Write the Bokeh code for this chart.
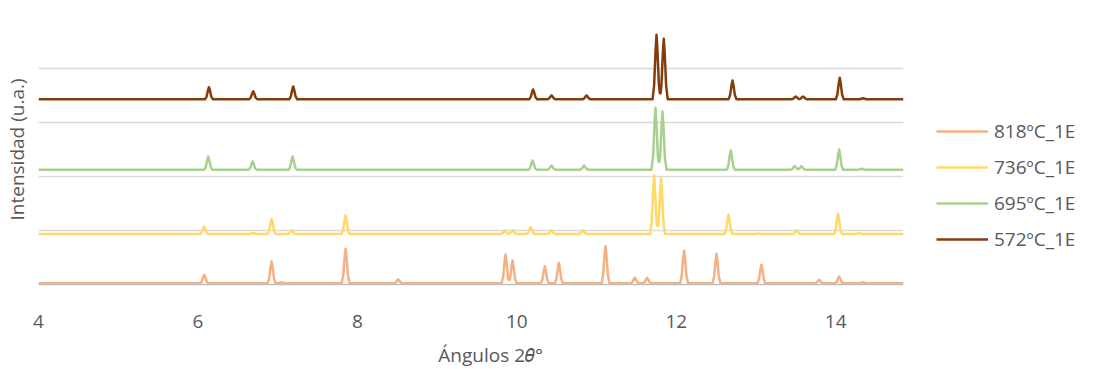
import numpy as np
from bokeh.plotting import figure
from bokeh.models import FixedTicker, Legend, LegendItem, Range1d
from bokeh.embed import file_html
from bokeh.resources import INLINE

# ---------------- data ----------------
x_ticks = [4, 6, 8, 10, 12, 14]
grid_levels = [1000, 2000, 3000, 4000, 5000]

series_names = ["818ºC_1E", "736ºC_1E", "695ºC_1E", "572ºC_1E"]
series_colors = ["#F4B183", "#FFD966", "#A9D18E", "#843C0C"]

baseline_818 = 24
peaks_818_x = [6.079, 6.924, 7.050, 7.852, 8.512, 9.858, 9.946, 10.351, 10.527, 11.112,
               11.480, 11.634, 12.098, 12.504, 13.068, 13.791, 14.042, 14.342]
peaks_818_h = [156, 408, 19, 637, 69, 532, 420, 315, 378, 685,
               100, 100, 606, 545, 341, 63, 124, 19]

baseline_736 = 935
peaks_736_x = [6.079, 6.690, 6.924, 7.175, 7.852, 9.850, 9.946, 10.172, 10.435, 10.831,
               11.722, 11.809, 12.655, 13.022, 13.507, 14.029, 14.292]
peaks_736_h = [139, 22, 282, 65, 343, 65, 65, 126, 65, 65,
               1084, 1034, 356, 10, 65, 374, 15]

baseline_695 = 2125
peaks_695_x = [6.129, 6.686, 7.187, 10.197, 10.435, 10.844, 11.739, 11.827, 12.683,
               13.486, 13.570, 14.042, 14.322]
peaks_695_h = [245, 153, 245, 171, 79, 79, 1147, 1079, 356, 66, 66, 375, 18]

baseline_572 = 3430
peaks_572_x = [6.138, 6.693, 7.195, 10.204, 10.435, 10.874, 11.752, 11.843, 12.705,
               13.498, 13.590, 14.050, 14.342]
peaks_572_h = [224, 150, 237, 181, 70, 70, 1194, 1120, 348, 52, 52, 398, 20]

x_start, x_end = 4.0, 14.85

# ---------------- drawing helpers ----------------
PROF_D = [0.0, 0.012, 0.03, 0.05]     # peak outline (shape only)
PROF_F = [1.0, 0.75, 0.22, 0.0]


def outline(base, px, ph):
    xs = {x_start, x_end}
    for p in px:
        for d in PROF_D:
            xs.add(round(p - d, 4))
            xs.add(round(p + d, 4))
    xs = sorted(x for x in xs if x_start <= x <= x_end)
    ys = []
    for x in xs:
        y = base
        for p, h in zip(px, ph):
            y += h * np.interp(abs(x - p), PROF_D, PROF_F, right=0.0)
        ys.append(y)
    return xs, ys


FONT = "Open Sans"
TXT = "#595959"

p = figure(frame_width=865, frame_height=270, output_backend="svg", toolbar_location=None,
           x_range=Range1d(x_start, x_end), y_range=Range1d(0, 5000),
           min_border_left=38, min_border_right=188, min_border_top=14,
           min_border_bottom=85)
p.outline_line_color = None
p.background_fill_color = "white"
p.border_fill_color = "white"

renderers = {}
data = [
    (series_names[0], baseline_818, peaks_818_x, peaks_818_h, series_colors[0]),
    (series_names[1], baseline_736, peaks_736_x, peaks_736_h, series_colors[1]),
    (series_names[2], baseline_695, peaks_695_x, peaks_695_h, series_colors[2]),
    (series_names[3], baseline_572, peaks_572_x, peaks_572_h, series_colors[3]),
]
for name, base, px, ph, col in data:
    xs, ys = outline(base, px, ph)
    renderers[name] = p.line(xs, ys, line_color=col, line_width=2.5, line_join="round")

# axes
p.xaxis.ticker = FixedTicker(ticks=x_ticks)
p.xaxis.axis_line_color = "#bfbfbf"
p.xaxis.axis_line_width = 1.5
p.xaxis.major_tick_line_color = None
p.xaxis.minor_tick_line_color = None
p.xaxis.major_tick_out = 0
p.xaxis.major_label_standoff = 30
p.xaxis.major_label_text_font = FONT
p.xaxis.major_label_text_font_size = "19px"
p.xaxis.major_label_text_color = TXT
p.xaxis.axis_label = "\u00a0" * 8 + "Ángulos 2𝜃°"
p.xaxis.axis_label_text_font = FONT
p.xaxis.axis_label_text_font_size = "19px"
p.xaxis.axis_label_text_font_style = "normal"
p.xaxis.axis_label_text_color = TXT
p.xaxis.axis_label_standoff = 11

p.yaxis.ticker = FixedTicker(ticks=[])
p.yaxis.axis_line_color = None
p.yaxis.major_tick_line_color = None
p.yaxis.minor_tick_line_color = None
p.yaxis.major_tick_out = 0
p.yaxis.major_label_standoff = 0
p.yaxis.axis_label = "Intensidad (u.a.)"
p.yaxis.axis_label_text_font = FONT
p.yaxis.axis_label_text_font_size = "19px"
p.yaxis.axis_label_text_font_style = "normal"
p.yaxis.axis_label_text_color = TXT
p.yaxis.axis_label_standoff = 9

p.xgrid.visible = False
p.ygrid.ticker = FixedTicker(ticks=grid_levels)
p.ygrid.grid_line_color = "#d9d9d9"
p.ygrid.grid_line_width = 1.5

legend = Legend(items=[LegendItem(label=n, renderers=[renderers[n]]) for n in series_names],
                location=(33, 32), orientation="vertical",
                padding=0, margin=0, spacing=10, glyph_width=52, glyph_height=20,
                label_height=20, label_standoff=6,
                label_text_font=FONT, label_text_font_size="19px",
                label_text_color=TXT, border_line_color=None,
                background_fill_alpha=0)
p.add_layout(legend, "right")

open("out.html", "w").write(file_html(p, INLINE))
